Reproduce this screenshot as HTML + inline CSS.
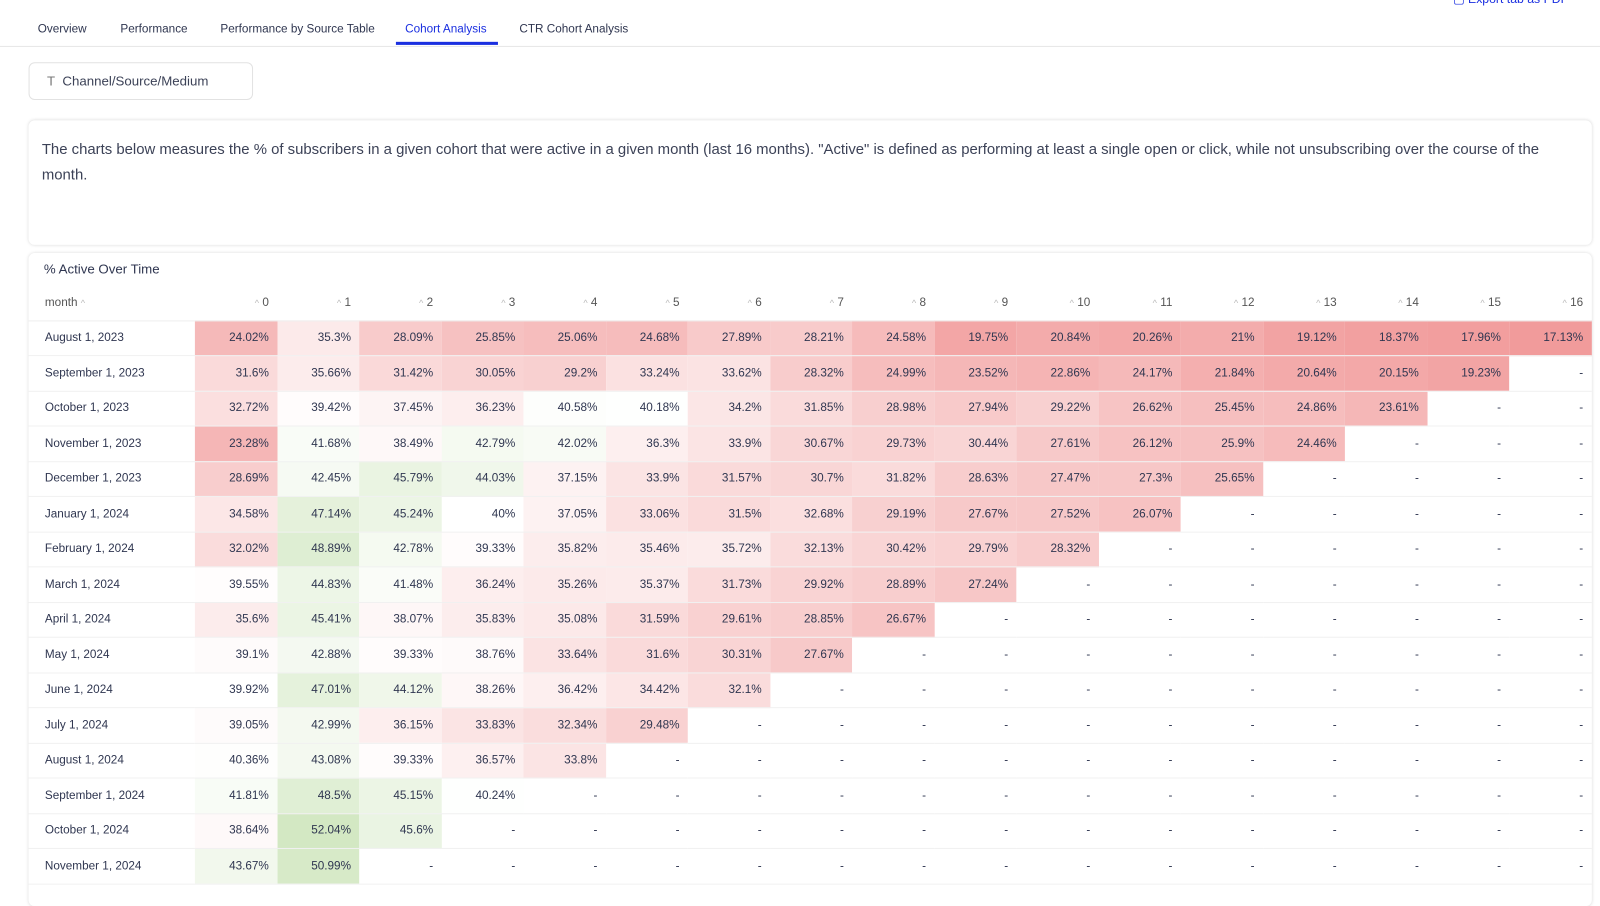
<!DOCTYPE html>
<html><head><meta charset="utf-8"><style>
body{margin:0;width:1600px;height:871px;overflow:hidden;background:#fff;font-family:"Liberation Sans",sans-serif;color:#2f3650}
#w{position:absolute;left:0;top:0;width:1568px;height:860px;transform:scale(1.0204);transform-origin:0 0}
.tabs{position:absolute;top:0;left:0;width:1568px;height:45px;border-bottom:1px solid #e6e6e6}
.tab{position:absolute;top:23px;font-size:11.5px;color:#2f3650}
.ul{position:absolute;left:388px;top:41px;width:100px;height:3px;background:#1a2fe0}
.exp{position:absolute;left:1424px;top:-8px;font-size:12px;color:#1a2fe0}
.filter{position:absolute;left:28px;top:61px;width:220px;height:37px;border:1px solid #e2e2e2;border-radius:6px;box-sizing:border-box;font-size:13px;line-height:35px;padding-left:17px;color:#3c4257}
.card{position:absolute;left:28px;width:1532px;background:#fff;border-radius:6px;box-shadow:0 0 3px rgba(0,0,0,.15)}
.desc{top:118px;height:122px;font-size:14.6px;line-height:25px;color:#3c4257;padding:17px 13px;box-sizing:border-box}
.tbl{top:248px;height:640px}
.title{position:absolute;left:15px;top:8px;font-size:13px;color:#2f3650}
table{position:absolute;left:0;top:32px;border-collapse:collapse;font-size:11.5px;table-layout:fixed}
td,th{height:34.5px;padding:0 8px;box-sizing:border-box;border-bottom:1px solid #f1f1f1;text-align:right;white-space:nowrap}
th{font-weight:normal;color:#555;height:34px;border-bottom:1px solid #eee}
td:first-child,th:first-child{text-align:left;padding-left:16px}
.c{color:#bbb;font-size:9px}
</style></head><body><div id="w">
<div class="tabs">
<span class="tab" style="left:37px">Overview</span>
<span class="tab" style="left:118px">Performance</span>
<span class="tab" style="left:216px">Performance by Source Table</span>
<span class="tab" style="left:397px;color:#1a2fe0">Cohort Analysis</span>
<span class="tab" style="left:509px">CTR Cohort Analysis</span>
<div class="ul"></div>
<span class="exp">▢ Export tab as PDF</span>
</div>
<div class="filter"><span style="color:#777">T</span>&nbsp;&nbsp;Channel/Source/Medium</div>
<div class="card desc">The charts below measures the % of subscribers in a given cohort that were active in a given month (last 16 months). "Active" is defined as performing at least a single open or click, while not unsubscribing over the course of the month.</div>
<div class="card tbl">
<div class="title">% Active Over Time</div>
<table id="t">
<colgroup><col style="width:163px"><col span="17" style="width:80.5px"></colgroup>
<tr><th>month <span class="c">^</span></th><th><span class="c">^</span> 0</th><th><span class="c">^</span> 1</th><th><span class="c">^</span> 2</th><th><span class="c">^</span> 3</th><th><span class="c">^</span> 4</th><th><span class="c">^</span> 5</th><th><span class="c">^</span> 6</th><th><span class="c">^</span> 7</th><th><span class="c">^</span> 8</th><th><span class="c">^</span> 9</th><th><span class="c">^</span> 10</th><th><span class="c">^</span> 11</th><th><span class="c">^</span> 12</th><th><span class="c">^</span> 13</th><th><span class="c">^</span> 14</th><th><span class="c">^</span> 15</th><th><span class="c">^</span> 16</th></tr>
<tr><td>August 1, 2023</td><td>24.02%</td><td>35.3%</td><td>28.09%</td><td>25.85%</td><td>25.06%</td><td>24.68%</td><td>27.89%</td><td>28.21%</td><td>24.58%</td><td>19.75%</td><td>20.84%</td><td>20.26%</td><td>21%</td><td>19.12%</td><td>18.37%</td><td>17.96%</td><td>17.13%</td></tr>
<tr><td>September 1, 2023</td><td>31.6%</td><td>35.66%</td><td>31.42%</td><td>30.05%</td><td>29.2%</td><td>33.24%</td><td>33.62%</td><td>28.32%</td><td>24.99%</td><td>23.52%</td><td>22.86%</td><td>24.17%</td><td>21.84%</td><td>20.64%</td><td>20.15%</td><td>19.23%</td><td>-</td></tr>
<tr><td>October 1, 2023</td><td>32.72%</td><td>39.42%</td><td>37.45%</td><td>36.23%</td><td>40.58%</td><td>40.18%</td><td>34.2%</td><td>31.85%</td><td>28.98%</td><td>27.94%</td><td>29.22%</td><td>26.62%</td><td>25.45%</td><td>24.86%</td><td>23.61%</td><td>-</td><td>-</td></tr>
<tr><td>November 1, 2023</td><td>23.28%</td><td>41.68%</td><td>38.49%</td><td>42.79%</td><td>42.02%</td><td>36.3%</td><td>33.9%</td><td>30.67%</td><td>29.73%</td><td>30.44%</td><td>27.61%</td><td>26.12%</td><td>25.9%</td><td>24.46%</td><td>-</td><td>-</td><td>-</td></tr>
<tr><td>December 1, 2023</td><td>28.69%</td><td>42.45%</td><td>45.79%</td><td>44.03%</td><td>37.15%</td><td>33.9%</td><td>31.57%</td><td>30.7%</td><td>31.82%</td><td>28.63%</td><td>27.47%</td><td>27.3%</td><td>25.65%</td><td>-</td><td>-</td><td>-</td><td>-</td></tr>
<tr><td>January 1, 2024</td><td>34.58%</td><td>47.14%</td><td>45.24%</td><td>40%</td><td>37.05%</td><td>33.06%</td><td>31.5%</td><td>32.68%</td><td>29.19%</td><td>27.67%</td><td>27.52%</td><td>26.07%</td><td>-</td><td>-</td><td>-</td><td>-</td><td>-</td></tr>
<tr><td>February 1, 2024</td><td>32.02%</td><td>48.89%</td><td>42.78%</td><td>39.33%</td><td>35.82%</td><td>35.46%</td><td>35.72%</td><td>32.13%</td><td>30.42%</td><td>29.79%</td><td>28.32%</td><td>-</td><td>-</td><td>-</td><td>-</td><td>-</td><td>-</td></tr>
<tr><td>March 1, 2024</td><td>39.55%</td><td>44.83%</td><td>41.48%</td><td>36.24%</td><td>35.26%</td><td>35.37%</td><td>31.73%</td><td>29.92%</td><td>28.89%</td><td>27.24%</td><td>-</td><td>-</td><td>-</td><td>-</td><td>-</td><td>-</td><td>-</td></tr>
<tr><td>April 1, 2024</td><td>35.6%</td><td>45.41%</td><td>38.07%</td><td>35.83%</td><td>35.08%</td><td>31.59%</td><td>29.61%</td><td>28.85%</td><td>26.67%</td><td>-</td><td>-</td><td>-</td><td>-</td><td>-</td><td>-</td><td>-</td><td>-</td></tr>
<tr><td>May 1, 2024</td><td>39.1%</td><td>42.88%</td><td>39.33%</td><td>38.76%</td><td>33.64%</td><td>31.6%</td><td>30.31%</td><td>27.67%</td><td>-</td><td>-</td><td>-</td><td>-</td><td>-</td><td>-</td><td>-</td><td>-</td><td>-</td></tr>
<tr><td>June 1, 2024</td><td>39.92%</td><td>47.01%</td><td>44.12%</td><td>38.26%</td><td>36.42%</td><td>34.42%</td><td>32.1%</td><td>-</td><td>-</td><td>-</td><td>-</td><td>-</td><td>-</td><td>-</td><td>-</td><td>-</td><td>-</td></tr>
<tr><td>July 1, 2024</td><td>39.05%</td><td>42.99%</td><td>36.15%</td><td>33.83%</td><td>32.34%</td><td>29.48%</td><td>-</td><td>-</td><td>-</td><td>-</td><td>-</td><td>-</td><td>-</td><td>-</td><td>-</td><td>-</td><td>-</td></tr>
<tr><td>August 1, 2024</td><td>40.36%</td><td>43.08%</td><td>39.33%</td><td>36.57%</td><td>33.8%</td><td>-</td><td>-</td><td>-</td><td>-</td><td>-</td><td>-</td><td>-</td><td>-</td><td>-</td><td>-</td><td>-</td><td>-</td></tr>
<tr><td>September 1, 2024</td><td>41.81%</td><td>48.5%</td><td>45.15%</td><td>40.24%</td><td>-</td><td>-</td><td>-</td><td>-</td><td>-</td><td>-</td><td>-</td><td>-</td><td>-</td><td>-</td><td>-</td><td>-</td><td>-</td></tr>
<tr><td>October 1, 2024</td><td>38.64%</td><td>52.04%</td><td>45.6%</td><td>-</td><td>-</td><td>-</td><td>-</td><td>-</td><td>-</td><td>-</td><td>-</td><td>-</td><td>-</td><td>-</td><td>-</td><td>-</td><td>-</td></tr>
<tr><td>November 1, 2024</td><td>43.67%</td><td>50.99%</td><td>-</td><td>-</td><td>-</td><td>-</td><td>-</td><td>-</td><td>-</td><td>-</td><td>-</td><td>-</td><td>-</td><td>-</td><td>-</td><td>-</td><td>-</td></tr>
</table>
</div>
</div>
<script>
document.querySelectorAll('#t td').forEach(function(td,i){
 if(td.cellIndex===0)return;
 var v=parseFloat(td.textContent);
 if(isNaN(v))return;
 var r,g,b;
 if(v<40){var f=Math.min(1,(40-v)/23);r=255-f*14;g=255-f*101;b=255-f*101;}
 else{var f=Math.min(1,(v-40)/12);r=255-f*44;g=255-f*23;b=255-f*60;}
 td.style.background='rgb('+Math.round(r)+','+Math.round(g)+','+Math.round(b)+')';
});
</script>
</body></html>
